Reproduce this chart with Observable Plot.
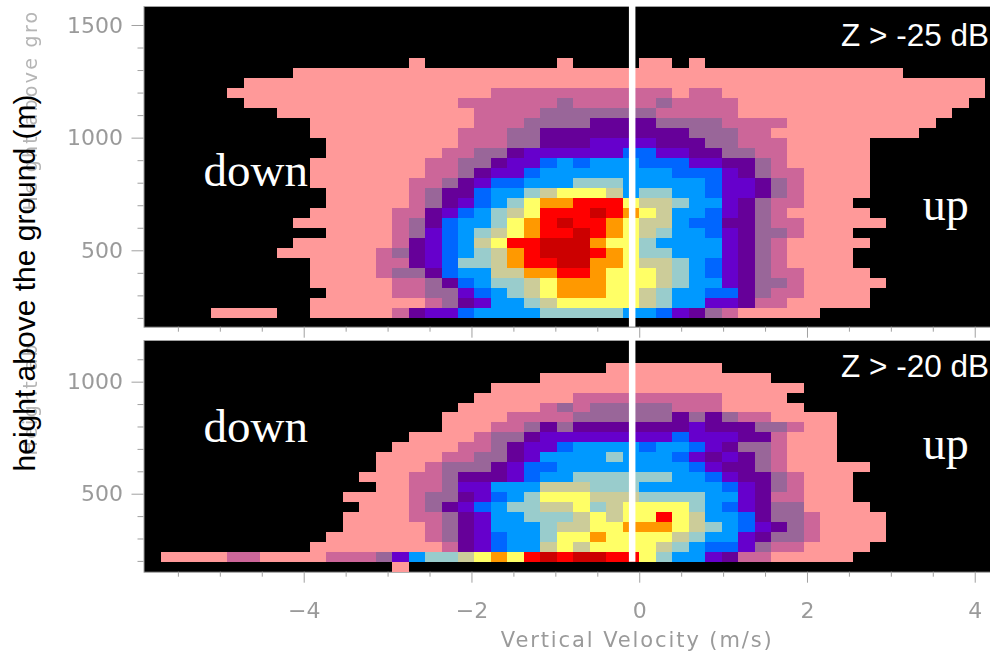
<!DOCTYPE html>
<html>
<head>
<meta charset="utf-8">
<script src="https://cdn.jsdelivr.net/npm/d3@7"></script>
<script src="https://cdn.jsdelivr.net/npm/@observablehq/plot@0.6"></script>
<style>
  html, body { margin: 0; padding: 0; background: #fff; overflow: hidden; width: 990px; height: 655px; }
  #top, #bottom { position: absolute; left: 0; }
  #top { top: 0; }
  #bottom { top: 338px; }
  svg { overflow: hidden; display: block; }
  .cells { filter: blur(0.55px); }
  .soft { filter: blur(0.5px); }
  .graylab { filter: blur(0.5px); letter-spacing: 2.3px; }
  .xlab { filter: blur(0.5px); letter-spacing: 1.9px; }
  #ylab { position: absolute; left: 24.6px; top: 283px; transform: translate(-50%, -50%) rotate(-90deg);
          font: 30px "Liberation Sans", sans-serif; color: #000; white-space: nowrap; }
</style>
</head>
<body>
<div id="top"></div>
<div id="bottom"></div>
<div id="ylab">height above the ground (m)</div>
<script>
// Frequency level colours (level 1 = lowest … 13 = highest)
const levels = [1, 2, 3, 4, 5, 6, 7, 8, 9, 10, 11, 12, 13];
const levelColors = ["#FF9999", "#CC6699", "#996699", "#660099", "#6600CC", "#0066FF", "#0099FF",
                     "#99CCCC", "#CCCC99", "#FFFF66", "#FF9900", "#FF0000", "#CC0000"];

const velocityBin = 0.1964;   // m/s per bin
const heightBin = 44.4;       // m per gate

// Each row, highest gate first: bin where a run starts, level of that run, … (0 = no data)
const rowsAbove25 = [
  [-13,1,-12,0,-4,1,-3,0,1,1,3,0,4,1,5,0],
  [-20,1,17,0],
  [-23,1,22,0],
  [-24,1,-8,2,3,1,4,2,6,1,22,0],
  [-23,1,-10,2,-4,3,-3,2,2,3,3,2,7,1,21,0],
  [-21,1,-9,2,-5,3,2,2,7,1,20,0],
  [-19,1,-9,2,-6,3,-2,4,2,3,6,2,10,1,19,0],
  [-19,1,-10,2,-7,3,-5,4,4,3,7,2,9,1,18,0],
  [-18,1,-10,2,-7,3,-5,4,-2,5,2,4,5,3,7,2,10,1,15,0],
  [-18,1,-11,2,-9,3,-7,4,-6,5,0,6,2,5,4,4,6,3,8,2,10,1,15,0],
  [-19,1,-12,2,-10,3,-8,4,-7,5,-5,6,-4,7,-3,6,-2,7,1,6,4,5,6,4,8,3,9,2,10,1,15,0],
  [-19,1,-12,2,-10,3,-9,4,-8,5,-6,6,-5,7,3,6,6,5,7,4,8,3,9,2,11,1,15,0],
  [-19,1,-13,2,-11,3,-10,4,-9,5,-8,6,-6,7,-3,8,0,7,5,6,6,5,8,4,9,3,10,2,11,1,15,0],
  [-18,1,-13,2,-12,3,-11,4,-9,6,-8,7,-6,8,-5,9,-4,10,-1,9,0,7,1,8,3,7,5,6,6,5,8,4,9,3,10,2,11,1,15,0],
  [-18,1,-13,2,-12,3,-11,4,-10,5,-9,6,-8,7,-7,8,-6,10,-5,11,-3,12,0,10,1,9,3,8,4,7,6,5,7,4,8,3,9,2,11,1,14,0],
  [-19,1,-14,2,-12,4,-11,5,-10,6,-9,7,-8,8,-7,9,-6,10,-5,12,-2,13,-1,12,0,11,1,10,2,9,3,7,5,6,6,5,7,4,8,3,9,2,10,1,15,0],
  [-20,1,-14,2,-13,3,-12,4,-11,6,-10,7,-8,8,-7,10,-6,11,-5,12,-4,13,-3,12,-1,11,0,10,1,9,3,7,4,6,6,4,8,3,9,2,11,1,16,0],
  [-18,1,-14,2,-13,3,-12,5,-11,6,-10,7,-9,8,-8,9,-7,10,-6,11,-5,12,-3,13,-2,12,-1,11,0,10,1,9,2,8,3,7,5,6,6,5,7,4,8,3,10,2,11,1,14,0],
  [-20,1,-14,2,-13,4,-12,5,-11,6,-10,7,-9,9,-8,10,-7,12,-5,13,-2,11,-1,10,1,8,2,7,6,5,7,4,8,3,9,2,10,1,15,0],
  [-21,1,-15,2,-14,3,-13,4,-12,5,-11,6,-10,7,-9,8,-8,9,-7,11,-6,12,-5,13,-2,12,-1,11,0,10,1,8,3,7,6,5,7,4,8,3,9,2,10,1,14,0],
  [-19,1,-15,2,-13,4,-12,5,-11,6,-10,8,-8,9,-7,11,-6,12,-4,13,-2,11,0,10,1,9,3,8,4,7,5,6,6,5,7,4,8,3,9,2,10,1,14,0],
  [-19,1,-15,2,-14,3,-12,4,-11,6,-10,7,-8,9,-6,11,-4,12,-2,11,-1,10,2,9,3,8,4,7,5,6,6,5,7,4,8,3,9,2,11,1,15,0],
  [-19,1,-14,2,-12,3,-11,4,-10,6,-9,7,-8,8,-6,9,-5,10,-4,11,-1,10,2,9,3,8,4,7,6,5,7,4,8,3,10,2,11,1,16,0],
  [-18,1,-14,2,-12,3,-10,5,-9,6,-8,7,-7,8,-6,9,-5,10,-4,11,-1,10,1,9,2,8,3,7,5,6,7,4,8,3,9,2,11,1,15,0],
  [-19,1,-12,2,-11,3,-10,4,-9,5,-8,7,-6,8,-5,9,-4,10,1,9,2,8,3,7,5,5,7,4,8,2,10,1,15,0],
  [-25,1,-21,0,-19,1,-14,2,-13,4,-12,5,-10,6,-9,7,-5,8,0,7,2,6,3,5,4,4,5,3,6,2,7,1,12,0]
];
const rowsAbove20 = [
  [-1,1,6,0],
  [-5,1,9,0],
  [-8,1,11,0],
  [-9,1,-3,2,6,1,10,0],
  [-10,1,-5,2,-4,3,-3,2,-2,3,3,2,6,1,11,0],
  [-11,1,-7,2,-3,3,3,4,4,3,5,4,6,3,7,2,9,1,13,0],
  [-11,1,-8,2,-6,3,-5,4,-4,3,-3,4,4,5,5,4,8,3,10,2,11,1,13,0],
  [-13,1,-9,2,-8,3,-6,4,-5,5,3,6,4,5,7,4,9,2,10,1,13,0],
  [-14,1,-10,2,-8,3,-7,4,-6,5,-4,6,-3,7,1,6,2,7,4,6,5,5,6,4,7,3,9,2,10,1,13,0],
  [-15,1,-11,2,-9,3,-7,4,-6,5,-5,7,-1,8,0,7,3,6,4,5,5,4,6,5,7,4,8,3,9,2,10,1,13,0],
  [-15,1,-12,2,-11,3,-8,4,-7,5,-6,6,-4,7,4,6,5,5,6,4,8,3,9,2,10,1,15,0],
  [-16,1,-13,2,-11,3,-10,4,-7,5,-6,6,-5,7,-3,8,3,7,5,6,6,5,7,4,9,3,10,2,11,1,14,0],
  [-15,1,-13,2,-11,3,-10,5,-8,7,-5,9,-2,8,1,7,6,6,7,5,8,4,9,3,10,2,11,1,14,0],
  [-17,1,-13,2,-12,3,-10,4,-9,5,-8,6,-7,7,-6,8,-5,10,-2,9,1,8,5,7,7,5,8,4,9,2,11,1,14,0],
  [-16,1,-13,2,-12,3,-11,4,-10,5,-9,6,-8,7,-7,8,-5,9,-3,10,-2,8,-1,9,0,10,4,8,5,7,6,6,7,5,8,4,9,3,11,1,15,0],
  [-17,1,-13,2,-11,3,-10,4,-9,5,-8,7,-6,8,-3,9,-2,10,-1,9,0,10,2,12,3,10,4,9,5,7,7,6,8,4,9,3,11,2,12,1,16,0],
  [-17,1,-12,2,-11,3,-10,4,-9,5,-8,7,-5,8,-4,9,-2,10,0,11,3,10,4,9,5,8,6,7,7,6,8,5,9,4,10,3,11,2,12,1,16,0],
  [-18,1,-12,2,-11,3,-10,4,-9,5,-8,6,-7,7,-5,8,-4,10,-2,11,-1,10,3,9,4,8,5,7,7,5,8,4,9,3,11,2,12,1,16,0],
  [-19,1,-11,2,-10,4,-9,5,-8,6,-7,7,-5,9,-4,10,-3,9,-2,10,2,9,3,8,4,7,5,6,7,5,8,3,9,2,11,1,15,0],
  [-28,1,-24,2,-22,1,-18,2,-15,3,-14,5,-13,7,-12,8,-10,9,-9,10,-8,11,-7,10,-6,12,-5,13,-4,12,-3,13,-1,12,1,10,2,8,3,7,5,5,6,4,7,2,9,1,14,0],
  [-14,1,-13,0]
];

const xDomain = [-5.91, 4.182];
const xMajor = [-4, -2, 0, 2, 4];
const xMinor = d3.range(-5.5, 4.01, 0.5).filter(v => !xMajor.includes(v));
const gray = "#a0a0a0";
const labelGray = "#9a9a9a";

// Expand the run lists into one table row per coloured run
function runs(rows, baseHeight) {
  const out = [];
  rows.forEach((row, r) => {
    const low = baseHeight + heightBin * (rows.length - 1 - r);
    for (let i = 0; i + 2 < row.length; i += 2) {
      if (row[i + 1] === 0) continue;
      out.push({v1: (row[i] - 1) * velocityBin, v2: (row[i + 2] - 1) * velocityBin,
                h1: low, h2: low + heightBin, level: row[i + 1]});
    }
  });
  return out;
}

function panel(cfg) {
  return Plot.plot({
    width: 990, height: cfg.height,
    marginLeft: 143.5, marginRight: 0, marginTop: cfg.marginTop, marginBottom: cfg.marginBottom,
    style: {fontFamily: "'DejaVu Sans', sans-serif", background: "transparent"},
    x: {domain: xDomain, label: null},
    y: {domain: cfg.yDomain, label: null},
    color: {type: "ordinal", domain: levels, range: levelColors},
    marks: [
      Plot.frame({fill: "black", stroke: gray, strokeWidth: 1}),
      Plot.rect(runs(cfg.rows, cfg.base), {x1: "v1", x2: "v2", y1: "h1", y2: "h2", fill: "level",
        shapeRendering: "crispEdges", className: "cells"}),
      Plot.ruleX([-0.09], {y1: cfg.lineFrom, y2: cfg.yDomain[1], stroke: "white", strokeWidth: 6.5}),
      Plot.axisX({ticks: xMinor, tickSize: 5, tickFormat: () => "", stroke: gray, label: null}),
      Plot.axisX({ticks: xMajor, tickSize: 11, tickPadding: cfg.showX ? 19 : 0, stroke: gray, fill: labelGray,
        fontSize: 22, label: null, className: "soft", tickFormat: cfg.showX ? d3.format("d") : () => ""}),
      Plot.axisY({ticks: cfg.yMinor, tickSize: 6, tickFormat: () => "", stroke: gray, label: null}),
      Plot.axisY({ticks: cfg.yMajor, tickSize: 12, tickPadding: 9, stroke: gray, fill: labelGray,
        fontSize: 22, label: null, className: "soft", tickFormat: d3.format("d")}),
      Plot.text([cfg.grayLabel], {frameAnchor: "bottom-left", rotate: -90, textAnchor: "start",
        dx: -107, dy: -116.7, fontSize: 19, fill: "#b5b5b5", className: "graylab"}),
      Plot.text(["down"], {x: cfg.down[0], y: cfg.down[1], text: d => d, fill: "white", fontSize: 47,
        fontFamily: "'Liberation Serif', serif", textAnchor: "start", lineAnchor: "bottom"}),
      Plot.text(["up"], {x: cfg.up[0], y: cfg.up[1], text: d => d, fill: "white", fontSize: 46,
        fontFamily: "'Liberation Serif', serif", textAnchor: "start", lineAnchor: "bottom"}),
      Plot.text([cfg.title], {x: 4.165, y: cfg.titleY, text: d => d, fill: "white", fontSize: 31.5,
        fontFamily: "'Liberation Sans', sans-serif", textAnchor: "end", lineAnchor: "bottom"}),
      ...(cfg.showX ? [Plot.text(["Vertical Velocity (m/s)"], {x: -0.03, frameAnchor: "bottom", dy: 75,
        fontSize: 21, fill: labelGray, className: "xlab"})] : [])
    ]
  });
}

document.getElementById("top").append(panel({
  height: 338, marginTop: 6, marginBottom: 11.3, grayLabel: "Height above gro",
  yDomain: [160.9, 1584.3], base: 198.2, rows: rowsAbove25, lineFrom: 160.9,
  yMajor: [500, 1000, 1500], yMinor: d3.range(200, 1600, 100).filter(h => h % 500),
  down: [-5.2, 787], up: [3.375, 637], title: "Z > -25 dB", titleY: 1409, showX: false
}));
document.getElementById("bottom").append(panel({
  height: 317, marginTop: 2, marginBottom: 83.3, grayLabel: "Height ab",
  yDomain: [151.8, 1186], base: 152, rows: rowsAbove20, lineFrom: 196,
  yMajor: [500, 1000], yMinor: d3.range(200, 1200, 100).filter(h => h % 500),
  down: [-5.2, 733], up: [3.375, 659], title: "Z > -20 dB", titleY: 1024, showX: true
}));
</script>
</body>
</html>
